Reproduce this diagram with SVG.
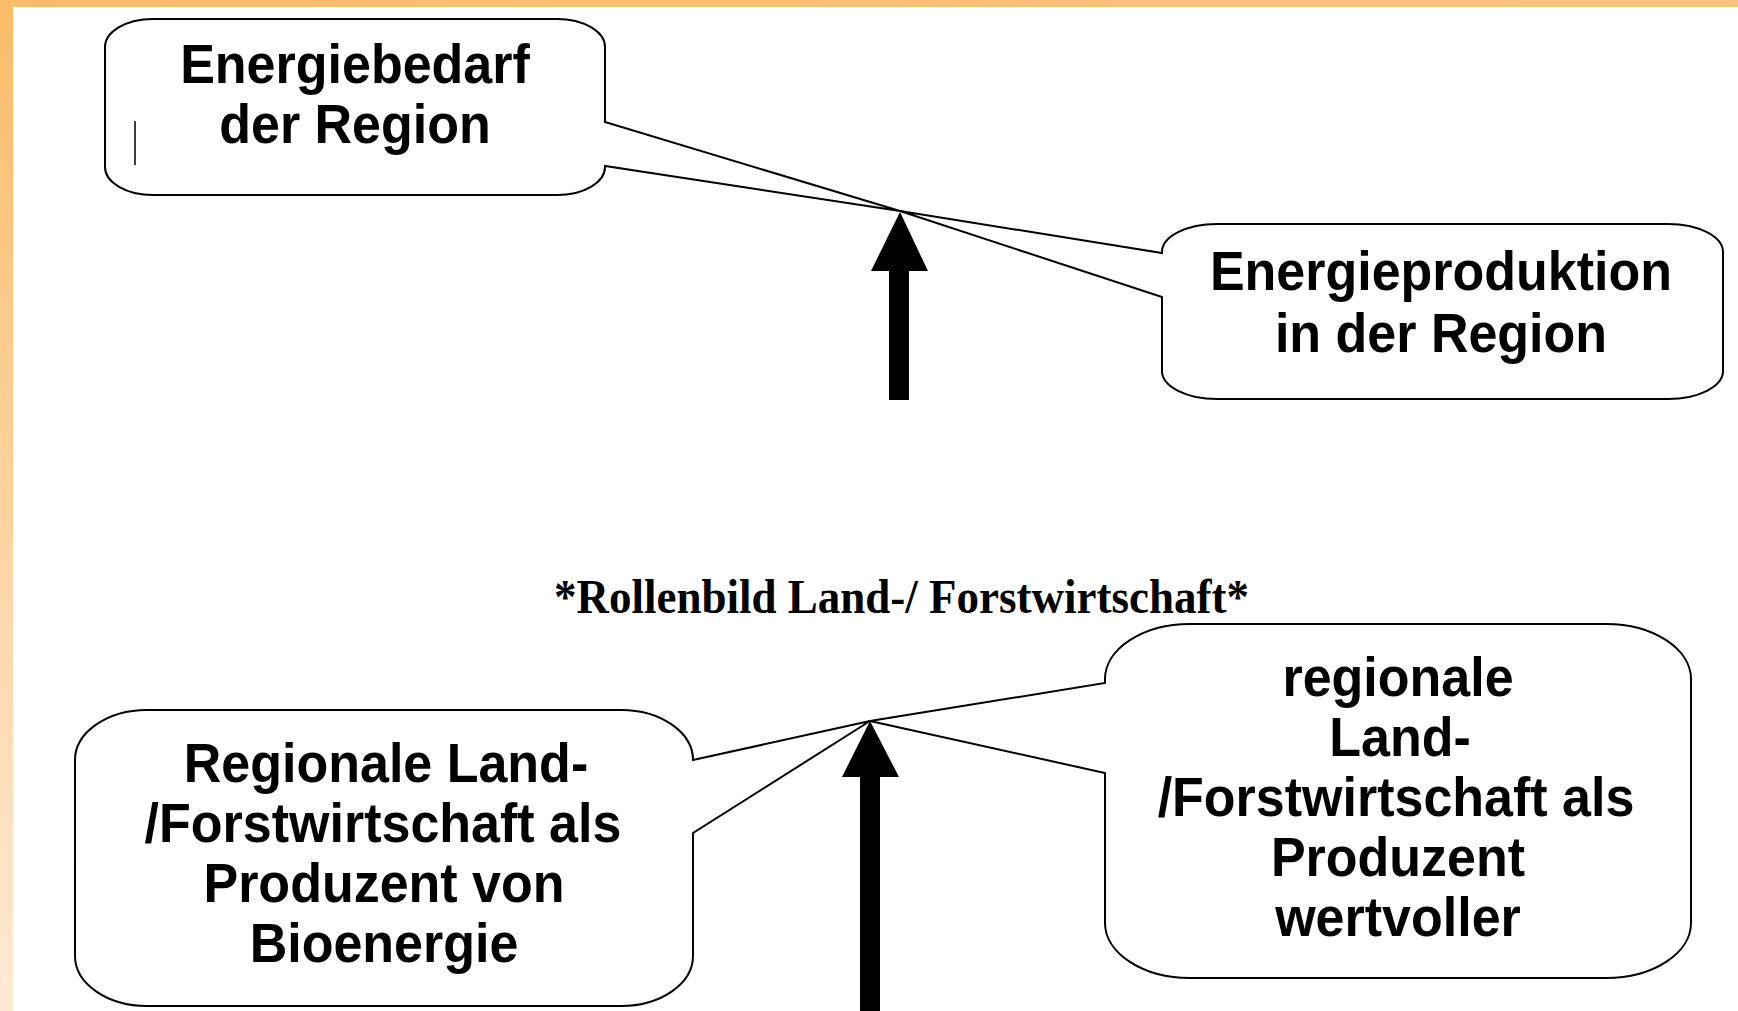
<svg xmlns="http://www.w3.org/2000/svg" width="1738" height="1011" viewBox="0 0 1738 1011">
  <defs>
    <linearGradient id="leftBand" x1="0" y1="0" x2="0" y2="1">
      <stop offset="0" stop-color="#FBBC69"/>
      <stop offset="1" stop-color="#FEEAD4"/>
    </linearGradient>
    <linearGradient id="topBand" x1="0" y1="0" x2="1" y2="0">
      <stop offset="0" stop-color="#FBBC69"/>
      <stop offset="1" stop-color="#FCC47A"/>
    </linearGradient>
    <style>
      .callout { fill: #FFFFFF; stroke: #000000; stroke-width: 2; stroke-linejoin: miter; }
      .lbl { font-family: "Liberation Sans", Arial, sans-serif; font-weight: bold; font-size: 52px; fill: #000000; text-anchor: middle; }
      .title { font-family: "Liberation Serif", "Times New Roman", serif; font-weight: bold; font-size: 46px; fill: #000000; }
      .blockarrow { fill: #000000; stroke: none; }
    </style>
  </defs>

  <rect x="0" y="0" width="1738" height="1011" fill="#FFFFFF"/>
  <rect x="0" y="0" width="1738" height="7" fill="url(#topBand)"/>
  <rect x="0" y="0" width="13" height="1011" fill="url(#leftBand)"/>

  <g id="node-energiebedarf">
    <path class="callout" d="M153,19 H557 A48,28 0 0 1 605,47 V122 L900,211 L605,166 V167 A48,28 0 0 1 557,195 H153 A48,28 0 0 1 105,167 V47 A48,28 0 0 1 153,19 Z"/>
    <line x1="135" y1="121" x2="135" y2="165" stroke="#000000" stroke-width="1.5"/>
    <text class="lbl" x="355" y="0" transform="translate(0,83) scale(1,1.07)">Energiebedarf</text>
    <text class="lbl" x="355" y="0" transform="translate(0,143) scale(1,1.07)">der Region</text>
  </g>

  <g id="node-energieproduktion">
    <path class="callout" d="M1217,224 H1668 A55,28 0 0 1 1723,252 V371 A55,28 0 0 1 1668,399 H1217 A55,28 0 0 1 1162,371 V297 L900,211 L1162,253 V252 A55,28 0 0 1 1217,224 Z"/>
    <text class="lbl" x="1441" y="0" transform="translate(0,290) scale(1,1.07)">Energieproduktion</text>
    <text class="lbl" x="1441" y="0" transform="translate(0,352) scale(1,1.07)">in der Region</text>
  </g>

  <g id="node-title">
    <text class="title" x="554" y="0" transform="translate(0,613) scale(1,1.05)" textLength="695" lengthAdjust="spacingAndGlyphs">*Rollenbild Land-/ Forstwirtschaft*</text>
  </g>

  <g id="node-bioenergie">
    <path class="callout" d="M147,710 H621 A72,50 0 0 1 693,760 L870,721 L693,833 V956 A72,50 0 0 1 621,1006 H147 A72,50 0 0 1 75,956 V760 A72,50 0 0 1 147,710 Z"/>
    <text class="lbl" x="386" y="0" transform="translate(0,782) scale(1,1.07)">Regionale Land-</text>
    <text class="lbl" x="383" y="0" transform="translate(0,842) scale(1,1.07)">/Forstwirtschaft als</text>
    <text class="lbl" x="384" y="0" transform="translate(0,902) scale(1,1.07)">Produzent von</text>
    <text class="lbl" x="384" y="0" transform="translate(0,962) scale(1,1.07)">Bioenergie</text>
  </g>

  <g id="node-wertvoller">
    <path class="callout" d="M1190,624 H1606 A85,55 0 0 1 1691,679 V923 A85,55 0 0 1 1606,978 H1190 A85,55 0 0 1 1105,923 V773 L870,721 L1105,683 V679 A85,55 0 0 1 1190,624 Z"/>
    <text class="lbl" x="1398" y="0" transform="translate(0,696) scale(1,1.07)">regionale</text>
    <text class="lbl" x="1400" y="0" transform="translate(0,756) scale(1,1.07)">Land-</text>
    <text class="lbl" x="1396" y="0" transform="translate(0,816) scale(1,1.07)">/Forstwirtschaft als</text>
    <text class="lbl" x="1398" y="0" transform="translate(0,876) scale(1,1.07)">Produzent</text>
    <text class="lbl" x="1398" y="0" transform="translate(0,936) scale(1,1.07)">wertvoller</text>
  </g>

  <g id="connectors">
    <polygon class="blockarrow" points="900,212 928,271 909,271 909,400 889,400 889,271 871,271"/>
    <polygon class="blockarrow" points="870,721 899,777 880,777 880,1011 860,1011 860,777 842,777"/>
  </g>
</svg>
